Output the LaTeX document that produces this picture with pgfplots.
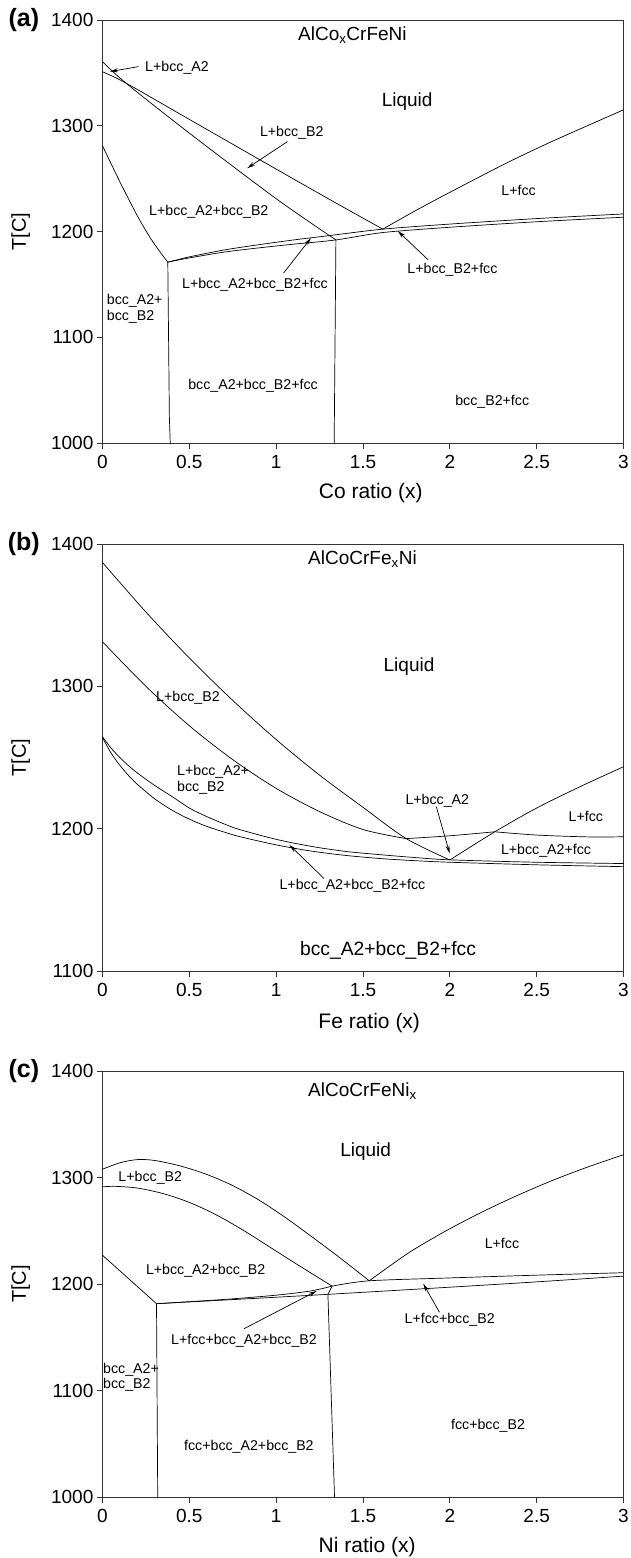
\documentclass[border=0pt]{standalone}
\usepackage{fontspec}
\setmainfont{Liberation Sans}
\usepackage{pgfplots}
\pgfplotsset{compat=1.18}
\usetikzlibrary{arrows.meta}

\newcommand\sm{\fontsize{14.2}{16}\selectfont}
\newcommand\md{\fontsize{19}{22}\selectfont}

\pgfplotsset{
  phase/.style={
    scale only axis, width=521pt,
    xmin=0, xmax=3, ymax=1400,
    xtick={0,0.5,1,1.5,2,2.5,3},
    ytick distance=100,
    tick align=outside, xtick pos=left, ytick pos=left,
    major tick length=5.6pt,
    axis line style={line width=0.9pt, black!80},
    every tick/.style={line width=0.9pt, black!80},
    tick label style={font=\md},
    xticklabel style={yshift=-3pt},
    /pgf/number format/assume math mode=true,
    /pgf/number format/1000 sep={},
    ylabel={T[C]},
    ylabel style={font=\fontsize{20}{23}\selectfont, at={(axis description cs:-0.157,0.5)}, anchor=center},
    clip=false,
    every axis plot/.append style={line width=0.7pt, black},
  },
}
\tikzset{
  lab/.style={inner sep=0pt, font=\sm},
  arr/.style={-{Stealth[length=8pt,width=4pt]}, line width=0.7pt},
}

\begin{document}
\begin{tikzpicture}
\useasboundingbox (0,0) rectangle (630pt,1558pt);

% ---------------- (a) AlCo_xCrFeNi
\begin{axis}[phase, at={(102.5pt,1115pt)}, anchor=south west, height=423pt, ymin=1000,
  xlabel={Co ratio (x)},
  xlabel style={font=\fontsize{21}{24}\selectfont, at={(axis description cs:0.515,-0.119)}, anchor=center}]
% bcc_A2 / bcc_B2 boundary
\addplot[smooth, tension=0.5] coordinates {(0,1360.6)(0.13,1341)(0.5,1293)(1.0,1231)(1.344,1192)};
% liquidus
\addplot[smooth, tension=0.5] coordinates {(0,1351)(0.13,1340.8)(0.5,1306)(1.0,1259)(1.3,1231)(1.614,1202.2)};
\addplot[smooth, tension=0.5] coordinates {(1.614,1202.2)(1.8,1219.5)(2.0,1237)(2.325,1264.6)(2.6,1286)(3,1315)};
% left boundary
\addplot[smooth, tension=0.5] coordinates {(0,1281)(0.1,1247)(0.2,1215)(0.275,1194)(0.33,1181)(0.376,1171)};
% band
\addplot[smooth, tension=0.5] coordinates {(0.376,1171)(0.5,1176)(0.7,1182.5)(0.9,1187.5)(1.1,1192)(1.3,1196)(1.614,1202.2)(2.0,1207)(2.5,1212.2)(3,1216.6)};
\addplot[smooth, tension=0.5] coordinates {(0.376,1171)(0.5,1175)(0.7,1180.5)(0.9,1184.5)(1.1,1188)(1.344,1192)(1.614,1199)(2.0,1204)(2.5,1209.2)(3,1213.5)};
% verticals
\addplot[sharp plot] coordinates {(0.376,1171)(0.385,1025)(0.39,1000)};
\addplot[sharp plot] coordinates {(1.344,1192)(1.334,1000)};

\node[font=\md] at (axis cs:1.439,1385.8) {AlCo\textsubscript{x}CrFeNi};
\node[font=\md] at (axis cs:1.754,1322.8) {Liquid};
\node[lab] at (axis cs:0.429,1354.9) {L+bcc\_A2};
\node[lab] at (axis cs:1.09,1292.9) {L+bcc\_B2};
\node[lab] at (axis cs:0.612,1218.8) {L+bcc\_A2+bcc\_B2};
\node[lab] at (axis cs:2.396,1238.4) {L+fcc};
\node[lab] at (axis cs:0.878,1149.5) {L+bcc\_A2+bcc\_B2+fcc};
\node[lab] at (axis cs:2.015,1163.7) {L+bcc\_B2+fcc};
\node[lab, anchor=west, align=left] at (axis cs:0.024,1127) {bcc\_A2+\\bcc\_B2};
\node[lab] at (axis cs:0.867,1054.4) {bcc\_A2+bcc\_B2+fcc};
\node[lab] at (axis cs:2.244,1039.2) {bcc\_B2+fcc};
\draw[arr] (axis cs:0.207,1355.9) -- (axis cs:0.043,1351.2);
\draw[arr] (axis cs:1.065,1285) -- (axis cs:0.833,1259.8);
\draw[arr] (axis cs:1.042,1160.6) -- (axis cs:1.2,1193.7);
\draw[arr] (axis cs:1.875,1173.2) -- (axis cs:1.70,1200.5);
\node[font={\fontsize{25}{28}\selectfont\bfseries}] at (axis description cs:-0.151,1) {(a)};
\end{axis}

% ---------------- (b) AlCoCrFe_xNi
\begin{axis}[phase, at={(102.5pt,587pt)}, anchor=south west, height=427pt, ymin=1100,
  xlabel={Fe ratio (x)},
  xlabel style={font=\fontsize{21}{24}\selectfont, at={(axis description cs:0.512,-0.122)}, anchor=center}]
\addplot[smooth, tension=0.5] coordinates {(0,1387)(0.25,1352.2)(0.5,1319.9)(0.75,1290.1)(1.0,1262.6)(1.25,1237.6)(1.5,1215)(1.749,1193)(2.0,1178)};
\addplot[smooth, tension=0.5] coordinates {(0,1331.3)(0.25,1300)(0.5,1272.3)(0.75,1248.5)(1.0,1228.3)(1.25,1212)(1.5,1199.4)(1.749,1193)};
\addplot[smooth, tension=0.5] coordinates {(1.749,1193)(2.0,1195)(2.259,1197.8)};
\addplot[smooth, tension=0.5] coordinates {(2.259,1197.8)(2.5,1195.5)(2.8,1194.2)(3,1194.3)};
\addplot[smooth, tension=0.5] coordinates {(2.0,1178)(2.259,1197.8)(2.5,1214.5)(2.75,1229.5)(3,1243.5)};
\addplot[smooth, tension=0.5] coordinates {(0,1264.6)(0.05,1256.5)(0.1,1250)(0.15,1244.2)(0.2,1239.2)(0.3,1230.4)(0.4,1222.6)(0.5,1214.5)(0.6,1208.5)(0.727,1202)(0.8,1199)(1.0,1192.5)(1.2,1187.6)(1.4,1184)(1.6,1181.7)(1.8,1179.7)(2.0,1178.1)(2.5,1176.4)(3,1175.5)};
\addplot[smooth, tension=0.5] coordinates {(0,1264)(0.05,1253)(0.1,1244.5)(0.15,1237.3)(0.2,1231.2)(0.3,1221)(0.4,1213)(0.5,1206.7)(0.6,1201.6)(0.727,1196.6)(0.8,1194.1)(1.0,1188.6)(1.2,1184.3)(1.4,1181.2)(1.6,1179)(1.8,1177.5)(2.0,1176.4)(2.5,1174.6)(3,1173.3)};

\node[font=\md] at (axis cs:1.497,1389.2) {AlCoCrFe\textsubscript{x}Ni};
\node[font=\md] at (axis cs:1.765,1313.8) {Liquid};
\node[lab] at (axis cs:0.492,1292.3) {L+bcc\_B2};
\node[lab, anchor=west, align=left, font=\fontsize{14.2}{16.5}\selectfont] at (axis cs:0.429,1234.2) {L+bcc\_A2+\\bcc\_B2};
\node[lab] at (axis cs:1.928,1219.6) {L+bcc\_A2};
\node[lab] at (axis cs:2.783,1208.4) {L+fcc};
\node[lab] at (axis cs:2.554,1184.5) {L+bcc\_A2+fcc};
\node[lab] at (axis cs:1.439,1159.7) {L+bcc\_A2+bcc\_B2+fcc};
\node[inner sep=0pt, font=\fontsize{19.3}{22}\selectfont] at (axis cs:1.644,1114.2) {bcc\_A2+bcc\_B2+fcc};
\draw[arr] (axis cs:1.922,1215.4) -- (axis cs:1.999,1182.6);
\draw[arr] (axis cs:1.275,1165) -- (axis cs:1.077,1188.5);
\node[font={\fontsize{25}{28}\selectfont\bfseries}] at (axis description cs:-0.151,1) {(b)};
\end{axis}

% ---------------- (c) AlCoCrFeNi_x
\begin{axis}[phase, at={(102.5pt,61pt)}, anchor=south west, height=426pt, ymin=1000,
  xlabel={Ni ratio (x)},
  xlabel style={font=\fontsize{21}{24}\selectfont, at={(axis description cs:0.508,-0.117)}, anchor=center}]
\addplot[smooth, tension=0.5] coordinates {(0,1307.8)(0.1,1313.8)(0.2,1316.8)(0.3,1316)(0.45,1310.75)(0.6,1302.9)(0.75,1292.4)(0.9,1278.9)(1.05,1262.8)(1.2,1245)(1.36,1225.5)(1.536,1203)};
\addplot[smooth, tension=0.5] coordinates {(0,1291.2)(0.07,1291.7)(0.2,1290.1)(0.35,1284.85)(0.5,1276.6)(0.65,1265.35)(0.8,1251.5)(0.95,1236.1)(1.1,1220.5)(1.322,1198)};
\addplot[smooth, tension=0.5] coordinates {(1.536,1203)(1.66,1217.6)(1.787,1231.8)(1.98,1250.1)(2.182,1267.3)(2.38,1282.5)(2.587,1297)(2.79,1309.6)(3,1321.4)};
\addplot[sharp plot] coordinates {(0,1227)(0.311,1181.5)};
\addplot[smooth, tension=0.5] coordinates {(0.311,1181.5)(0.7,1185.5)(1.0,1189.5)(1.2,1193.5)(1.322,1198)};
\addplot[smooth, tension=0.5] coordinates {(1.322,1198)(1.536,1203)(2.0,1205.7)(2.5,1208.3)(3,1210.6)};
\addplot[smooth, tension=0.5] coordinates {(0.311,1181.5)(0.8,1185.8)(1.298,1190.3)(2.0,1197)(2.5,1202)(3,1207.4)};
\addplot[sharp plot] coordinates {(1.322,1198)(1.298,1190.3)(1.336,1000)};
\addplot[sharp plot] coordinates {(0.311,1181.5)(0.318,1000)};

\node[font=\md] at (axis cs:1.497,1381.2) {AlCoCrFeNi\textsubscript{x}};
\node[font=\md] at (axis cs:1.515,1324.1) {Liquid};
\node[lab] at (axis cs:0.275,1299.6) {L+bcc\_B2};
\node[lab] at (axis cs:2.30,1238.5) {L+fcc};
\node[lab] at (axis cs:0.594,1212.8) {L+bcc\_A2+bcc\_B2};
\node[lab] at (axis cs:0.815,1146.9) {L+fcc+bcc\_A2+bcc\_B2};
\node[lab] at (axis cs:1.999,1166.4) {L+fcc+bcc\_B2};
\node[lab, anchor=west, align=left, font=\fontsize{14.2}{15}\selectfont] at (axis cs:0.003,1112.6) {bcc\_A2+\\bcc\_B2};
\node[lab] at (axis cs:0.843,1047.2) {fcc+bcc\_A2+bcc\_B2};
\node[lab] at (axis cs:2.22,1067) {fcc+bcc\_B2};
\draw[arr] (axis cs:0.815,1158) -- (axis cs:1.233,1193.4);
\draw[arr] (axis cs:1.94,1173.5) -- (axis cs:1.847,1200.3);
\node[font={\fontsize{25}{28}\selectfont\bfseries}] at (axis description cs:-0.151,1) {(c)};
\end{axis}
\end{tikzpicture}
\end{document}
